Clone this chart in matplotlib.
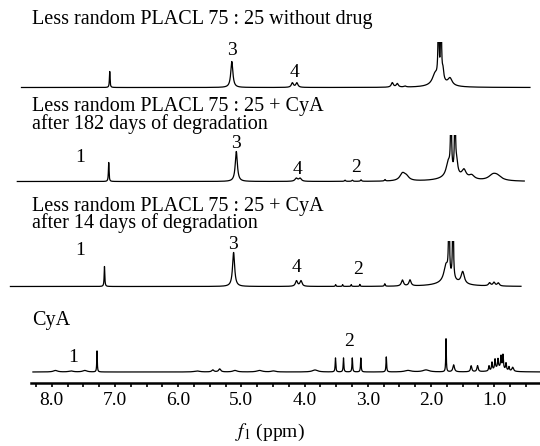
import numpy as np
import matplotlib
matplotlib.use("Agg")
import matplotlib.pyplot as plt
from matplotlib.patches import Rectangle

plt.rcParams['font.family'] = ['Liberation Serif', 'DejaVu Serif']
plt.rcParams['mathtext.fontset'] = 'stix'

# ---------------- data (ppm, height, half-width) ----------------
# Spectrum 1: Less random PLACL 75:25 without drug
s1_range = (8.478, 0.432)
s1_ppm = [7.082, 5.150, 4.192, 4.121, 2.611, 2.532, 2.410, 1.935, 1.880, 1.840, 1.809, 1.698, 1.850]
s1_h   = [16,    26,    4.5,   4.5,   4.5,   3.5,   1.0,   10,    80,    80,    10,    7,     4]
s1_w   = [0.006, 0.02,  0.02,  0.02,  0.02,  0.02,  0.02,  0.05,  0.008, 0.008, 0.015, 0.04,  0.15]

# Spectrum 2: + CyA after 182 days
s2_range = (8.544, 0.523)
s2_ppm = [7.098, 5.079, 4.130, 4.070, 3.359, 3.244, 3.106, 2.727, 2.450, 2.390, 1.725, 1.682, 1.619, 1.592, 1.477, 1.355, 1.020, 0.950, 1.650]
s2_h   = [19,    30,    3,     3,     1.2,   1.2,   1.5,   1.5,   7,     4,     14,    80,    80,    12,    8,     4,     5,     4,     5]
s2_w   = [0.006, 0.02,  0.025, 0.025, 0.01,  0.01,  0.01,  0.01,  0.05,  0.05,  0.04,  0.008, 0.008, 0.02,  0.04,  0.05,  0.08,  0.08,  0.2]

# Spectrum 3: + CyA after 14 days
s3_range = (8.653, 0.575)
s3_ppm = [7.165, 5.122, 4.127, 4.056, 3.508, 3.397, 3.261, 3.124, 2.730, 2.451, 2.331, 1.761, 1.714, 1.651, 1.497, 1.072, 1.002, 0.934, 1.700]
s3_h   = [20,    34,    5.5,   5.5,   1.8,   1.8,   1.8,   2.0,   2.5,   6,     6,     16,    80,    80,    12,    3,     3.5,   3,     5]
s3_w   = [0.006, 0.02,  0.02,  0.02,  0.006, 0.006, 0.006, 0.006, 0.008, 0.02,  0.02,  0.04,  0.008, 0.008, 0.03,  0.02,  0.02,  0.02,  0.2]

# Spectrum 4: CyA
s4_range = (8.297, 0.274)
s4_ppm = [7.941, 7.695, 7.476, 7.283, 5.701, 5.451, 5.342, 5.100, 4.712, 4.492, 3.834,
          3.510, 3.383, 3.244, 3.109, 2.706, 2.363, 2.078, 1.761, 1.640, 1.363, 1.262,
          1.081, 1.034, 0.986, 0.939, 0.891, 0.860, 0.812, 0.765, 0.706, 0.920]
s4_h   = [1.5,   1.0,   1.5,   21,    1.0,   2.0,   3.0,   1.5,   1.5,   1.0,   2.0,
          14,    14,    14,    14,    15,    1.5,   2.0,   33,    7,     6,     6,
          5,     8,     10,    9,     12,    14,    7,     4,     4,     4]
s4_w   = [0.04,  0.04,  0.04,  0.005, 0.05,  0.02,  0.02,  0.04,  0.05,  0.04,  0.05,
          0.006, 0.006, 0.006, 0.006, 0.006, 0.06,  0.06,  0.005, 0.015, 0.012, 0.012,
          0.008, 0.008, 0.008, 0.008, 0.008, 0.008, 0.008, 0.008, 0.015, 0.09]

titles = [
    ("Less random PLACL 75 : 25 without drug", 363.5),
    ("Less random PLACL 75 : 25 + CyA\nafter 182 days of degradation", 267),
    ("Less random PLACL 75 : 25 + CyA\nafter 14 days of degradation", 167.5),
    ("CyA", 61.5),
]
peak_labels = [
    ("3", 5.150, 332.5), ("4", 4.166, 310.5),
    ("1", 7.547, 224.5), ("3", 5.079, 239.5), ("4", 4.109, 213.5), ("2", 3.179, 214.5),
    ("1", 7.547, 132.5), ("3", 5.139, 138.5), ("4", 4.119, 114.5), ("2", 3.154, 113.5),
    ("1", 7.668, 24.5), ("2", 3.296, 40.5),
]
tick_values = [8.0, 7.0, 6.0, 5.0, 4.0, 3.0, 2.0, 1.0]
tick_labels = ["8.0", "7.0", "6.0", "5.0", "4.0", "3.0", "2.0", "1.0"]

# ---------------- layout ----------------
offsets = [295, 201, 96, 10.5]
clip_tops = [46, 46.5, 45.5, None]

fig = plt.figure(figsize=(5.4, 4.46), dpi=100)
ax = fig.add_axes([0, (446 - 382.5) / 446, 1, 382.5 / 446])
ax.set_xlim(8.818, 0.274)
ax.set_ylim(0, 382.5)


def spectrum(rng, ppm, h, w):
    x = np.arange(rng[0], rng[1], -0.001)
    y = np.zeros_like(x)
    for c, a, g in zip(ppm, h, w):
        y += a / (1 + ((x - c) / g) ** 2)
    return x, y


specs = [(s1_range, s1_ppm, s1_h, s1_w), (s2_range, s2_ppm, s2_h, s2_w),
         (s3_range, s3_ppm, s3_h, s3_w), (s4_range, s4_ppm, s4_h, s4_w)]
for (rng, p, h, w), off, ct in zip(specs, offsets, clip_tops):
    x, y = spectrum(rng, p, h, w)
    line, = ax.plot(x, y + off, color='black', lw=0.9, clip_on=True)
    if ct is not None:
        rect = Rectangle((9, off - 5), -9, ct + 5, transform=ax.transData, visible=False)
        ax.add_patch(rect)
        line.set_clip_path(rect)

for t, yy in titles:
    ax.text(8.312, yy, t, fontsize=14.5, va='center', ha='left', linespacing=0.82)
for t, xx, yy in peak_labels:
    ax.text(xx, yy, t, fontsize=14, va='center', ha='center')

for s in ['top', 'right', 'left']:
    ax.spines[s].set_visible(False)
ax.spines['bottom'].set_bounds(8.32, 0.274)
ax.spines['bottom'].set_linewidth(1.8)
ax.set_yticks([])
ax.set_xticks(tick_values)
ax.set_xticklabels(tick_labels, fontsize=14)
ax.set_xticks(np.arange(8.25, 0.45, -0.25), minor=True)
ax.tick_params(axis='x', which='both', direction='out', length=3, width=1.2, pad=4)
ax.set_xlabel(r"$f_1$ (ppm)", fontsize=14, labelpad=9)

fig.savefig("out.png", dpi=100)
